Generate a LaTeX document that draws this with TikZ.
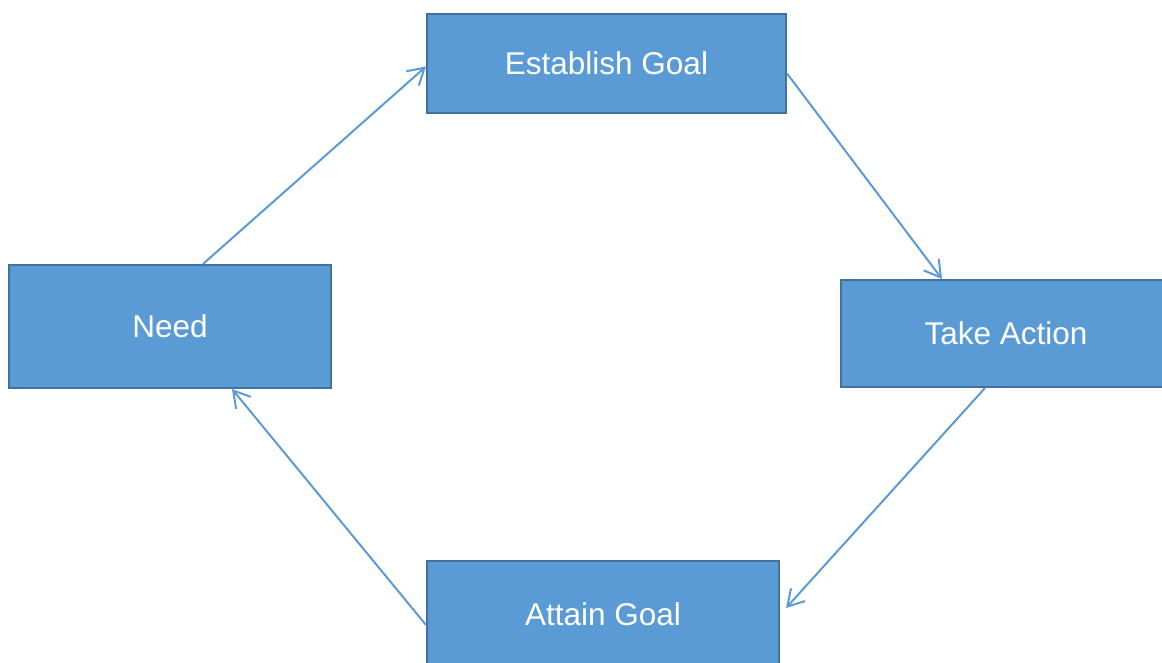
\documentclass[tikz,border=0pt]{standalone}
\usepackage{fontspec}
\setmainfont{Liberation Sans}
\usepackage{xcolor}
\usetikzlibrary{arrows.meta}

\definecolor{boxfill}{HTML}{5B9BD5}
\definecolor{boxline}{HTML}{41719C}

\begin{document}
\begin{tikzpicture}[
    x=1pt, y=-1pt,
    box/.style={rectangle, draw=boxline, fill=boxfill, line width=2pt, text=white, font=\fontsize{31.5}{38}\selectfont},
    arrow/.style={-{Straight Barb[length=16pt,width=19pt,line width=2pt]}, draw=boxfill, line width=2pt}
]
    \useasboundingbox (0,0) rectangle (1162,663);

    % Cycle steps
    \node[box, minimum width=359pt, minimum height=99pt] (goal) at (606.5,63.5) {Establish Goal};
    \node[box, minimum width=330pt, minimum height=107pt] (action) at (1006,333.5) {Take Action};
    \node[box, minimum width=352pt, minimum height=106pt] (attain) at (603,614) {Attain Goal};
    \node[box, minimum width=322pt, minimum height=123pt] (need) at (170,326.5) {Need};

    % Arrows
    \draw[arrow] ([xshift=33pt]need.north) -- ([yshift=-3pt]goal.west);
    \draw[arrow] ([yshift=-10pt]goal.east) -- ([xshift=-64pt]action.north);
    \draw[arrow] ([xshift=-21pt]action.south) -- ([xshift=6pt,yshift=6pt]attain.east);
    \draw[arrow] ([yshift=-11pt]attain.west) -- ([xshift=62pt]need.south);
\end{tikzpicture}
\end{document}
